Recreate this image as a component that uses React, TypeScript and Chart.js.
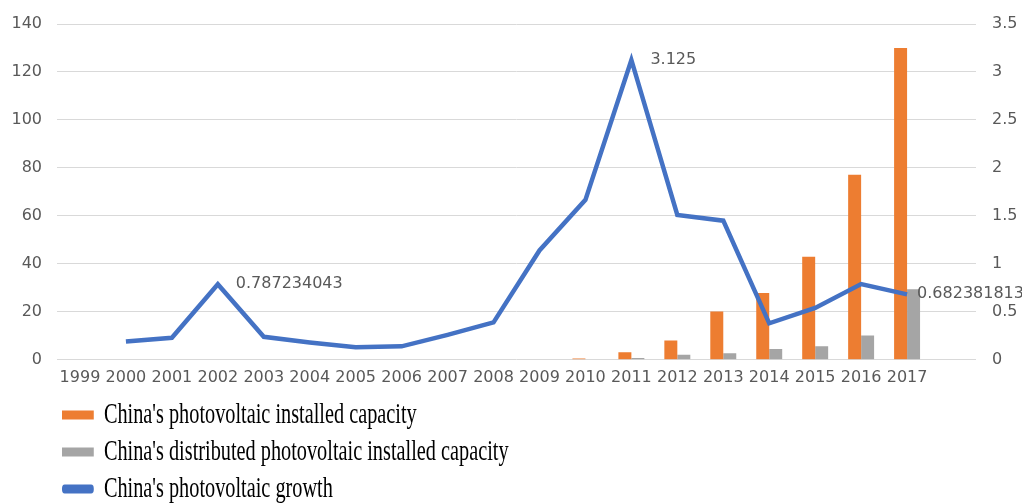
import React, { useEffect, useRef } from "react";
import { Chart, registerables } from "chart.js";

Chart.register(...registerables);

const years = [
  "1999", "2000", "2001", "2002", "2003", "2004", "2005", "2006", "2007", "2008",
  "2009", "2010", "2011", "2012", "2013", "2014", "2015", "2016", "2017", "",
];

const installedCapacity = [
  null, null, null, null, null, null, null, null, null, null,
  null, 0.5, 3.1, 8, 20.1, 27.9, 43, 77.2, 130, null,
];

const distributedCapacity = [
  null, null, null, null, null, null, null, null, null, null,
  null, null, 0.8, 2.1, 2.7, 4.5, 5.6, 10.1, 29.4, null,
];

const growth = [
  null, 0.19, 0.23, 0.787234043, 0.24, 0.18, 0.13, 0.14, 0.26, 0.39,
  1.14, 1.667, 3.125, 1.51, 1.45, 0.38, 0.54, 0.79, 0.682381813, null,
];

const labelledPoints = [3, 12, 18];
const labelOffsets = [18, 19, 10];

const leftTicks = [0, 20, 40, 60, 80, 100, 120, 140];
const rightTicks = [0, 0.5, 1, 1.5, 2, 2.5, 3, 3.5];

const seriesNames = [
  "China's photovoltaic installed capacity",
  "China's distributed photovoltaic installed capacity",
  "China's photovoltaic growth",
];

const TICK_FONT = { family: "'DejaVu Sans'", size: 16 };
const TICK_COLOR = "#595959";

const LEGEND_SX = 0.676;
const LEGEND_X0 = 54;
const LEGEND_DY = -2;

const pointLabelPlugin = {
  id: "pointLabels",
  afterDatasetsDraw(chart: any) {
    const meta = chart.getDatasetMeta(2);
    const ctx = chart.ctx;
    ctx.save();
    ctx.font = "16px 'DejaVu Sans'";
    ctx.fillStyle = TICK_COLOR;
    ctx.textAlign = "left";
    ctx.textBaseline = "middle";
    labelledPoints.forEach((idx, k) => {
      const pt = meta.data[idx];
      if (!pt) return;
      ctx.fillText(String(growth[idx]), pt.x + labelOffsets[k], pt.y);
    });
    ctx.restore();
  },
};

const legendShiftPlugin = {
  id: "legendShift",
  afterUpdate(chart: any) {
    const lg = chart.legend;
    if (!lg) return;
    const pad = lg.options.labels.padding;
    lg.left = LEGEND_X0 - pad;
    lg.top = lg.top + LEGEND_DY;
    if (!lg.__wrapped) {
      const orig = lg.draw.bind(lg);
      lg.draw = (area: any) => {
        const ctx = chart.ctx;
        const ox = LEGEND_X0;
        ctx.save();
        ctx.translate(ox, 0);
        ctx.scale(LEGEND_SX, 1);
        ctx.translate(-ox, 0);
        orig(area);
        ctx.restore();
      };
      lg.__wrapped = true;
    }
  },
};

export default function App() {
  const ref = useRef<HTMLCanvasElement | null>(null);

  useEffect(() => {
    if (!ref.current) return;
    const chart = new Chart(ref.current, {
      type: "bar",
      data: {
        labels: years,
        datasets: [
          {
            type: "bar",
            label: seriesNames[0],
            data: installedCapacity,
            backgroundColor: "#ED7D31",
            borderWidth: 0,
            yAxisID: "y",
            order: 1,
            categoryPercentage: 0.565,
            barPercentage: 1,
          },
          {
            type: "bar",
            label: seriesNames[1],
            data: distributedCapacity,
            backgroundColor: "#A5A5A5",
            borderWidth: 0,
            yAxisID: "y",
            order: 2,
            categoryPercentage: 0.565,
            barPercentage: 1,
          },
          {
            type: "line",
            label: seriesNames[2],
            data: growth,
            borderColor: "#4472C4",
            backgroundColor: "#4472C4",
            borderWidth: 4.5,
            pointRadius: 0,
            tension: 0,
            yAxisID: "y1",
            order: 0,
          },
        ] as any,
      },
      options: {
        animation: false,
        responsive: true,
        maintainAspectRatio: false,
        layout: { padding: { left: 3, right: 5, top: 16, bottom: -12 } },
        scales: {
          x: {
            grid: { display: false, drawTicks: false },
            border: { display: false },
            afterFit: (axis: any) => {
              axis.paddingLeft = 0;
              axis.paddingRight = 0;
            },
            ticks: {
              font: TICK_FONT,
              color: TICK_COLOR,
              autoSkip: false,
              maxRotation: 0,
              minRotation: 0,
              padding: 8,
            },
          },
          y: {
            position: "left",
            min: 0,
            max: 140,
            afterBuildTicks: (axis: any) => {
              axis.ticks = leftTicks.map((v) => ({ value: v }));
            },
            afterFit: (axis: any) => {
              axis.paddingTop = 0;
              axis.paddingBottom = 0;
              axis.width = 46;
            },
            grid: { color: "#d9d9d9", lineWidth: 1, drawTicks: false },
            border: { display: false },
            ticks: { font: TICK_FONT, color: TICK_COLOR, padding: 15, callback: (v: any) => String(v) },
          },
          y1: {
            position: "right",
            min: 0,
            max: 3.5,
            afterBuildTicks: (axis: any) => {
              axis.ticks = rightTicks.map((v) => ({ value: v }));
            },
            afterFit: (axis: any) => {
              axis.paddingTop = 0;
              axis.paddingBottom = 0;
              axis.width = 41;
            },
            grid: { display: false, drawTicks: false },
            border: { display: false },
            ticks: { font: TICK_FONT, color: TICK_COLOR, padding: 16, callback: (v: any) => String(v) },
          },
        },
        plugins: {
          tooltip: { enabled: false },
          legend: {
            position: "bottom",
            align: "start",
            labels: {
              font: { family: "'Liberation Serif'", size: 30 },
              color: "#000000",
              boxWidth: 47,
              boxHeight: 9,
              padding: 7,
              generateLabels: (c: any) => {
                const items = Chart.defaults.plugins.legend.labels.generateLabels(c);
                return items
                  .map((it: any) => ({
                    ...it,
                    lineWidth: 0,
                    borderRadius: it.datasetIndex === 2 ? 4 : 0,
                  }))
                  .sort((a: any, b: any) => a.datasetIndex - b.datasetIndex);
              },
            },
          },
        },
      },
      plugins: [pointLabelPlugin, legendShiftPlugin],
    } as any);
    return () => chart.destroy();
  }, []);

  return (
    <div style={{ position: "relative", width: 1014, height: 496 }}>
      <canvas ref={ref} />
    </div>
  );
}
